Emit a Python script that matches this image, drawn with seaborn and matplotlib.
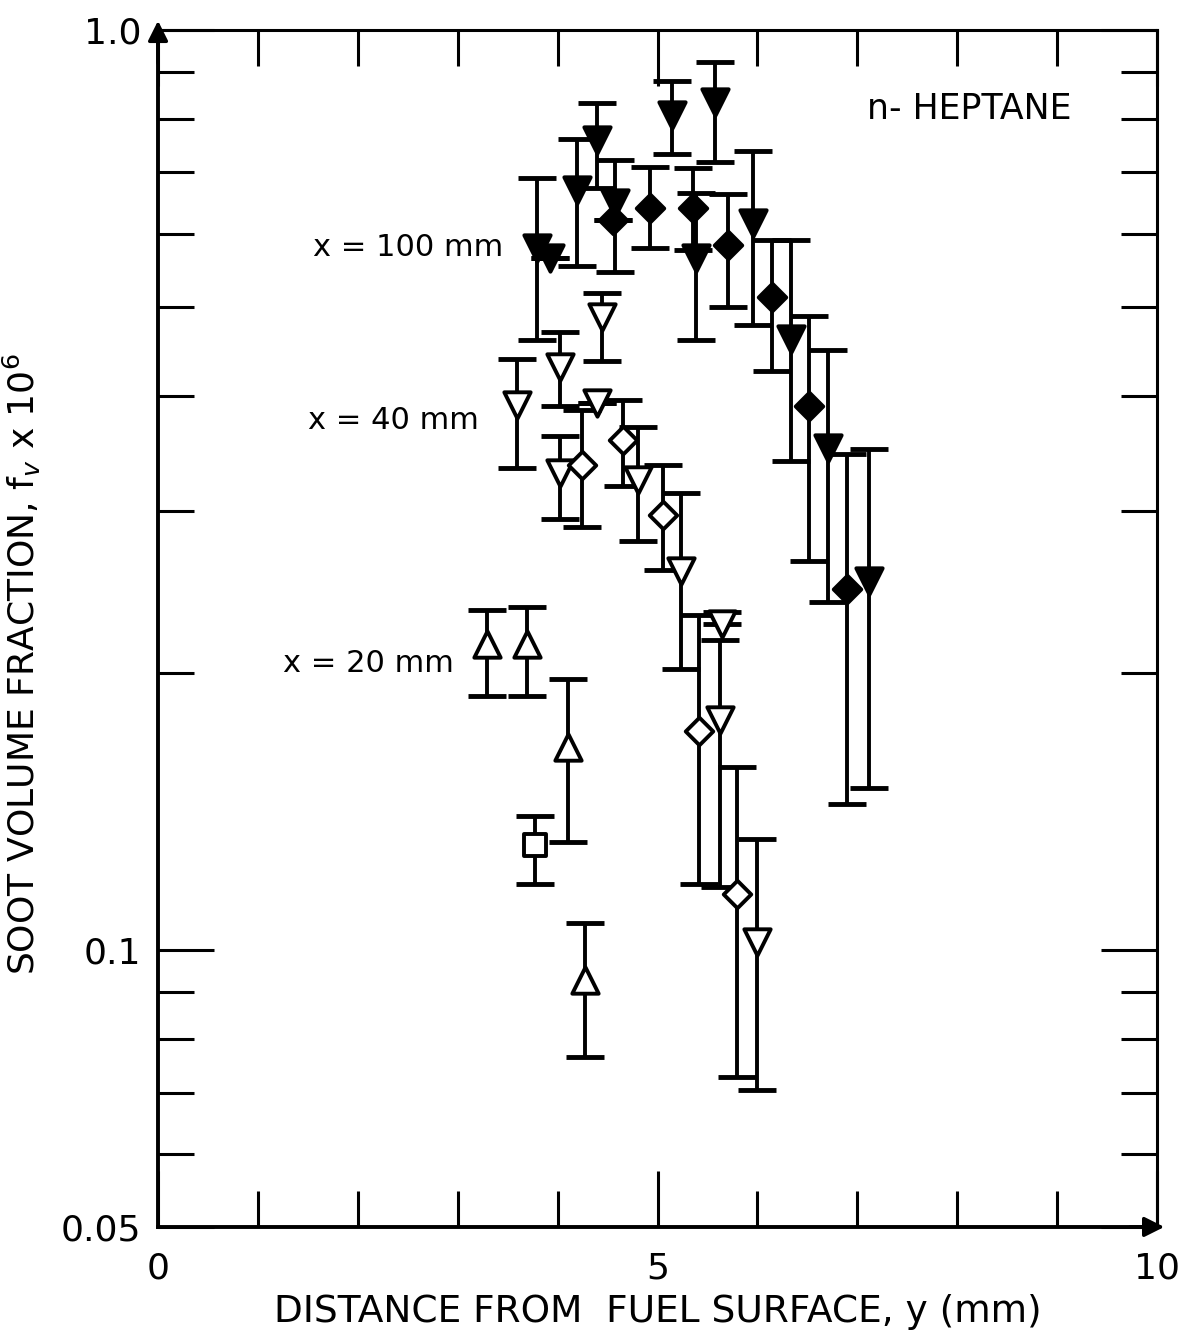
import numpy as np
import seaborn as sns
import matplotlib.pyplot as plt
from matplotlib.ticker import FixedLocator, NullFormatter

# Dados (y em mm, fv x 1e6)
# x = 100 mm, triangulos cheios
y100_tri = [3.79, 3.92, 4.19, 4.39, 4.57, 5.14, 5.58, 5.38, 5.96, 6.34, 6.71, 7.12]
f100_tri = [0.579, 0.565, 0.670, 0.759, 0.648, 0.808, 0.835, 0.565, 0.617, 0.462, 0.351, 0.252]
f100_tri_hi = [0.690, 0.565, 0.762, 0.833, 0.722, 0.880, 0.923, 0.665, 0.739, 0.591, 0.449, 0.350]
f100_tri_lo = [0.460, 0.565, 0.554, 0.673, 0.546, 0.733, 0.719, 0.460, 0.478, 0.340, 0.239, 0.150]

# x = 100 mm, losangos cheios
y100_dia = [4.55, 4.92, 5.35, 5.71, 6.15, 6.52, 6.90]
f100_dia = [0.622, 0.641, 0.641, 0.584, 0.512, 0.390, 0.247]
f100_dia_hi = [0.622, 0.710, 0.708, 0.663, 0.591, 0.489, 0.346]
f100_dia_lo = [0.622, 0.580, 0.577, 0.500, 0.426, 0.265, 0.144]

# x = 40 mm, triangulos abertos
y40_tri = [3.59, 4.02, 4.44, 4.39, 4.02, 4.80, 5.23, 5.65, 5.63, 6.00]
f40_tri = [0.391, 0.430, 0.488, 0.393, 0.330, 0.324, 0.258, 0.226, 0.178, 0.102]
f40_tri_hi = [0.439, 0.470, 0.518, 0.393, 0.362, 0.370, 0.314, 0.233, 0.217, 0.132]
f40_tri_lo = [0.334, 0.390, 0.437, 0.393, 0.294, 0.278, 0.202, 0.226, 0.117, 0.0705]

# x = 40 mm, losangos abertos
y40_dia = [4.24, 4.65, 5.05, 5.41, 5.80]
f40_dia = [0.337, 0.358, 0.297, 0.173, 0.115]
f40_dia_hi = [0.386, 0.396, 0.337, 0.231, 0.158]
f40_dia_lo = [0.288, 0.319, 0.259, 0.118, 0.0728]

# x = 20 mm, triangulos para cima e um quadrado
y20_tri = [3.29, 3.69, 4.10, 4.27]
f20_tri = [0.215, 0.215, 0.166, 0.0928]
f20_tri_hi = [0.234, 0.236, 0.197, 0.107]
f20_tri_lo = [0.189, 0.189, 0.131, 0.0765]

y20_sq = [3.77]
f20_sq = [0.130]
f20_sq_hi = [0.140]
f20_sq_lo = [0.118]

sns.set_style("ticks")
plt.rcParams['font.family'] = ['DejaVu Sans']
plt.rcParams['text.color'] = 'black'
plt.rcParams['axes.labelcolor'] = 'black'
plt.rcParams['xtick.labelcolor'] = 'black'
plt.rcParams['ytick.labelcolor'] = 'black'

fig = plt.figure(figsize=(11.82, 13.38), dpi=100)
ax = fig.add_axes([0.1337, 0.083, 0.8452, 0.8946])

series = [
    (y100_tri, f100_tri, f100_tri_lo, f100_tri_hi, 'v', 'black', 19),
    (y100_dia, f100_dia, f100_dia_lo, f100_dia_hi, 'D', 'black', 14),
    (y40_tri, f40_tri, f40_tri_lo, f40_tri_hi, 'v', 'white', 19),
    (y40_dia, f40_dia, f40_dia_lo, f40_dia_hi, 'D', 'white', 14),
    (y20_tri, f20_tri, f20_tri_lo, f20_tri_hi, '^', 'white', 19),
    (y20_sq, f20_sq, f20_sq_lo, f20_sq_hi, 's', 'white', 16),
]

for xs, ys, lo, hi, mk, fc, ms in series:
    ys_a = np.array(ys)
    yerr = [ys_a - np.array(lo), np.array(hi) - ys_a]
    ax.errorbar(xs, ys, yerr=yerr, fmt='none', ecolor='black',
                elinewidth=2.8, capsize=14, capthick=3.5, zorder=2)
    sns.scatterplot(x=xs, y=ys, ax=ax, marker=mk, s=ms ** 2, color=fc,
                    edgecolor='black', linewidth=2.8, zorder=3, legend=False)

ax.set_yscale('log')
ax.set_xlim(0, 10)
ax.set_ylim(0.05, 1.0)

# eixos
for side in ['left', 'bottom', 'right', 'top']:
    ax.spines[side].set_linewidth(2.8 if side in ('left', 'bottom') else 2.2)
    ax.spines[side].set_color('black')

ax.yaxis.set_major_locator(FixedLocator([0.05, 0.1, 1.0]))
ax.yaxis.set_minor_locator(FixedLocator([0.06, 0.07, 0.08, 0.09, 0.2, 0.3, 0.4, 0.5, 0.6, 0.7, 0.8, 0.9]))
ax.yaxis.set_minor_formatter(NullFormatter())
ax.set_yticklabels(['0.05', '0.1', '1.0'])
ax.set_xticks([0, 5, 10])
ax.set_xticklabels(['0', '5', '10'])
ax.xaxis.set_minor_locator(FixedLocator([1, 2, 3, 4, 6, 7, 8, 9]))

ax.tick_params(axis='both', which='both', direction='in', top=True, right=True,
               width=2.2, color='black', labelsize=26, pad=12)
ax.tick_params(axis='x', which='both', pad=18)
ax.tick_params(axis='y', which='major', length=40)
ax.tick_params(axis='y', which='minor', length=26)
ax.tick_params(axis='x', which='major', length=40)
ax.tick_params(axis='x', which='minor', length=26)

# setas nos eixos
ax.annotate('', xy=(0, 1.01), xytext=(0, 0.97), xycoords='axes fraction',
            arrowprops=dict(arrowstyle='-|>', color='black', lw=2.5, mutation_scale=30))
ax.annotate('', xy=(1.01, 0), xytext=(0.97, 0), xycoords='axes fraction',
            arrowprops=dict(arrowstyle='-|>', color='black', lw=2.5, mutation_scale=30))

ax.set_xlabel('DISTANCE FROM  FUEL SURFACE, y (mm)', fontsize=27, labelpad=6)
ax.set_ylabel('SOOT VOLUME FRACTION, f$_v$ x 10$^6$', fontsize=26)
ax.yaxis.set_label_coords(-0.115, 0.47)

# rotulos das curvas
ax.text(1.55, 0.58, 'x = 100 mm', fontsize=22, va='center')
ax.text(1.5, 0.376, 'x = 40 mm', fontsize=22, va='center')
ax.text(1.25, 0.205, 'x = 20 mm', fontsize=22, va='center')
ax.text(7.1, 0.82, 'n- HEPTANE', fontsize=25, va='center')

plt.savefig('out.png', dpi=100)
plt.close()
